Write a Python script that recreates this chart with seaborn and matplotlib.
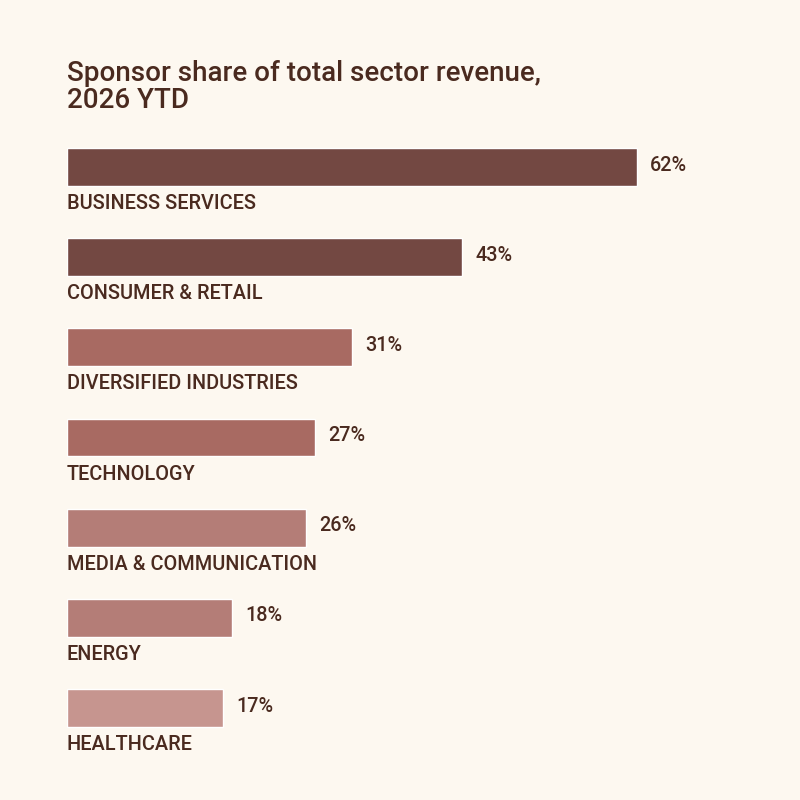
import pandas as pd
import matplotlib.pyplot as plt
import seaborn as sns

# -------------------------------
# Data
# -------------------------------
sectors = [
    "BUSINESS SERVICES",
    "CONSUMER & RETAIL",
    "DIVERSIFIED INDUSTRIES",
    "TECHNOLOGY",
    "MEDIA & COMMUNICATION",
    "ENERGY",
    "HEALTHCARE",
]
share = [62, 43, 31, 27, 26, 18, 17]
bar_colors = ["#734842", "#734842", "#a86a62", "#a86a62", "#b47d77", "#b47d77", "#c6958f"]

BG = "#fdf8f0"
TEXT = "#4a2a1f"

df = pd.DataFrame({"sector": sectors, "share": share})

# -------------------------------
# Style
# -------------------------------
sns.set_theme(style="white")
plt.rcParams["font.family"] = ["Roboto", "DejaVu Sans"]

fig = plt.figure(figsize=(8, 8), dpi=100)
fig.patch.set_facecolor(BG)
ax = fig.add_axes([67 / 800, 1 - 753 / 800, 0.82, 631 / 800])
ax.set_facecolor(BG)

sns.barplot(
    data=df, y="sector", x="share", hue="sector",
    palette=bar_colors, orient="h", width=0.42,
    legend=False, ax=ax, saturation=1,
)

# 62% bar is ~570 px wide -> ~9.19 px per point
ax.set_xlim(0, 0.82 * 800 / 9.19)
ax.set_ylim(6.5, -0.5)

for i, (name, val) in enumerate(zip(sectors, share)):
    ax.text(0, i + 0.30, name, ha="left", va="top",
            fontsize=14.3, fontweight="medium", color=TEXT)
    ax.text(val + 1.4, i - 0.02, f"{val}%", ha="left", va="center",
            fontsize=14.3, fontweight="medium", color=TEXT)

ax.set_xlabel("")
ax.set_ylabel("")
ax.set_xticks([])
ax.set_yticks([])
sns.despine(ax=ax, left=True, bottom=True)

fig.text(67 / 800, 1 - 60 / 800, "Sponsor share of total sector revenue,\n2026 YTD",
         ha="left", va="top", fontsize=20, fontweight="medium",
         color=TEXT, linespacing=1.0)

plt.savefig("out.png", dpi=100, facecolor=BG)
plt.close()
